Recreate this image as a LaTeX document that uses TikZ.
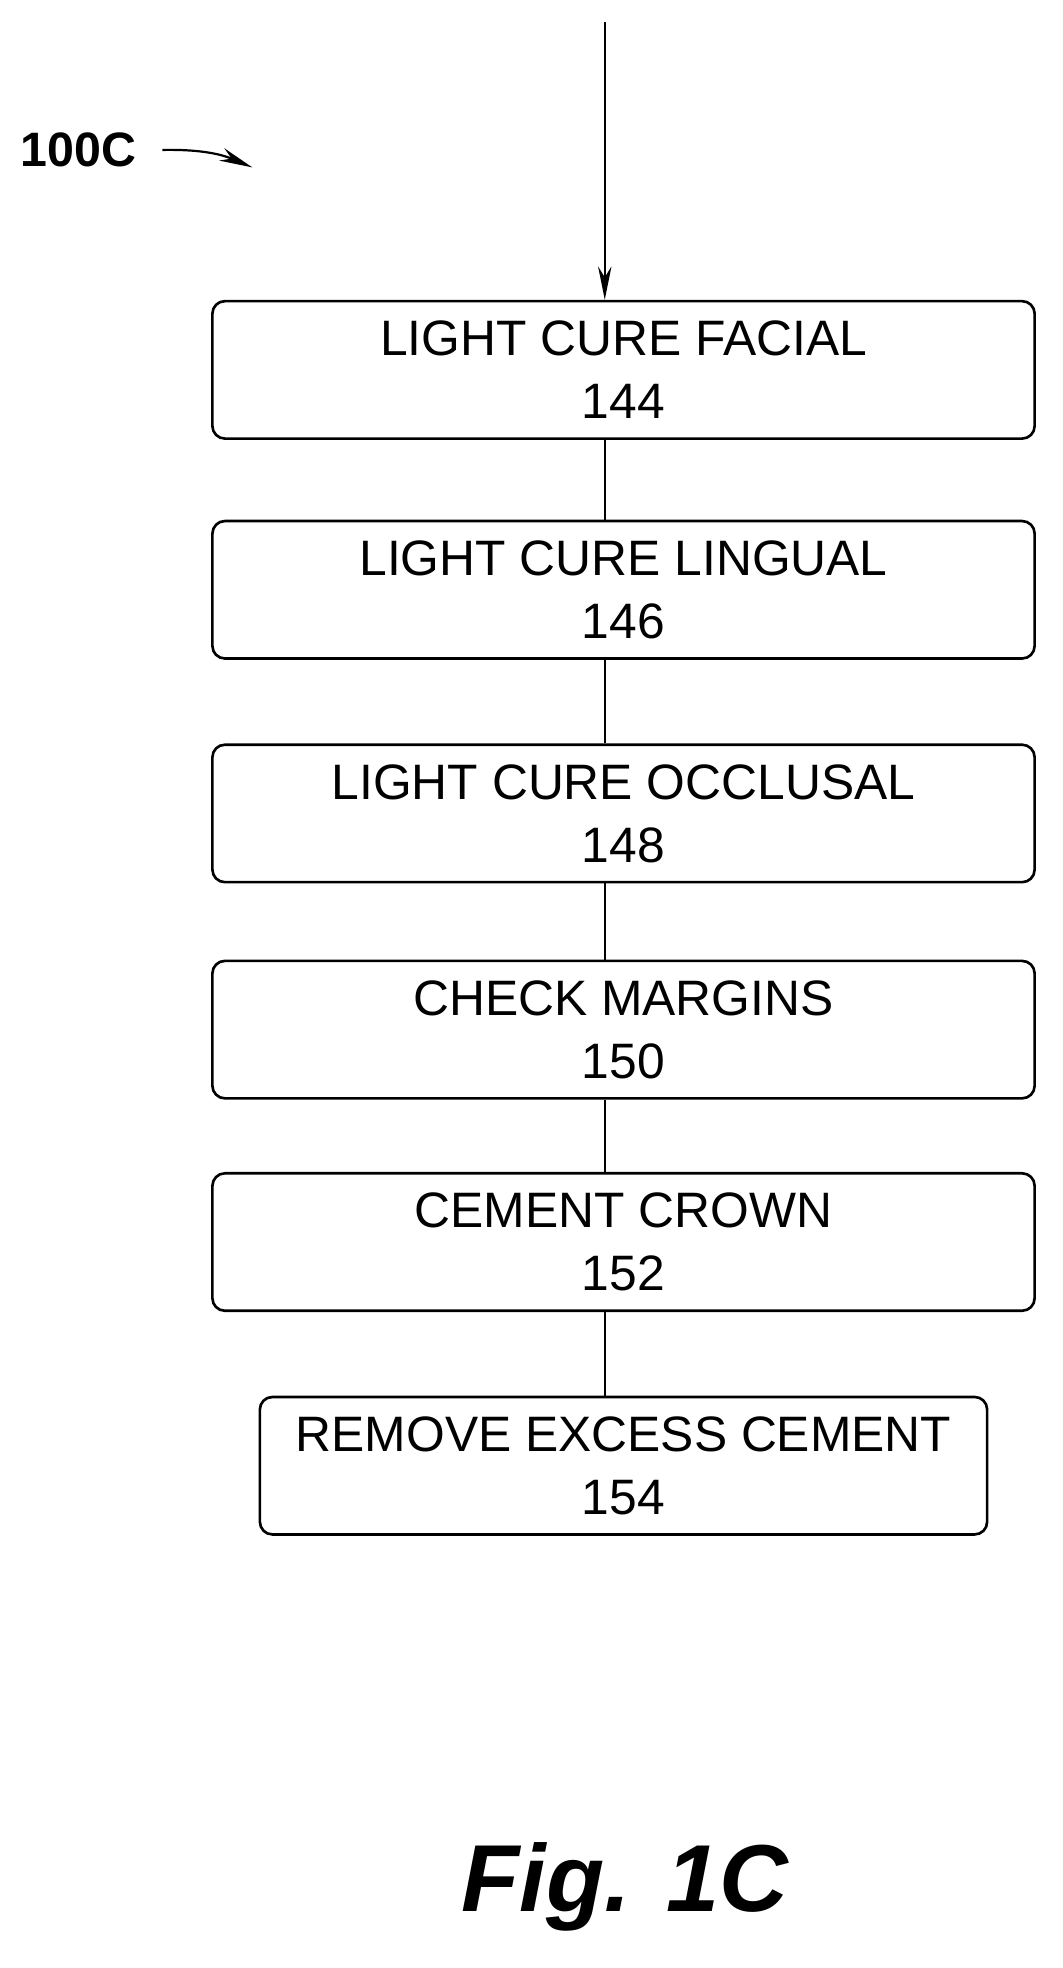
\documentclass[tikz,border=0pt]{standalone}
\usepackage{fontspec}
\setmainfont{Liberation Sans}
\usetikzlibrary{arrows,arrows.meta}

\begin{document}
\begin{tikzpicture}
  [x=0.03cm,y=-0.03cm,thick,>={Stealth[length=8mm,width=3.2mm]},
	step box/.style={rectangle,rounded corners=3mm,draw,line width=1.8pt,
  align=center,font=\fontsize{34}{43}\selectfont,minimum height=3.3cm,inner sep=0pt},
	wide box/.style={step box,minimum width=19.74cm},
	narrow box/.style={step box,minimum width=17.46cm}]

  \useasboundingbox (0,0) rectangle (850,1575);

  \coordinate (top) at (484,18);
  \node[wide box] (s144) at (499,296) {LIGHT CURE FACIAL\\144};
  \node[wide box] (s146) at (499,472) {LIGHT CURE LINGUAL\\146};
  \node[wide box] (s148) at (499,651) {LIGHT CURE OCCLUSAL\\148};
  \node[wide box] (s150) at (499,824) {CHECK MARGINS\\150};
  \node[wide box] (s152) at (499,994) {CEMENT CROWN\\152};
  \node[narrow box] (s154) at (499,1173) {REMOVE EXCESS CEMENT\\154};

  \draw[->,line width=1.5pt] (top) -- (s144.north -| top);
  \draw[line width=1.5pt] (s144.south -| top) -- (s146.north -| top)
    (s146.south -| top) -- (s148.north -| top)
    (s148.south -| top) -- (s150.north -| top)
    (s150.south -| top) -- (s152.north -| top)
    (s152.south -| top) -- (s154.north -| top);

  \node[font=\fontsize{33}{36}\selectfont\bfseries,anchor=west] (label) at (12,120) {100C};
  \coordinate (tip) at (202,134);
  \draw[->,line width=1.5pt] (130,120) to[bend left=12] (tip);

  \node[font=\fontsize{65}{72}\selectfont\bfseries\itshape] (fig) at (500,1510) {Fig. 1C};
\end{tikzpicture}
\end{document}
